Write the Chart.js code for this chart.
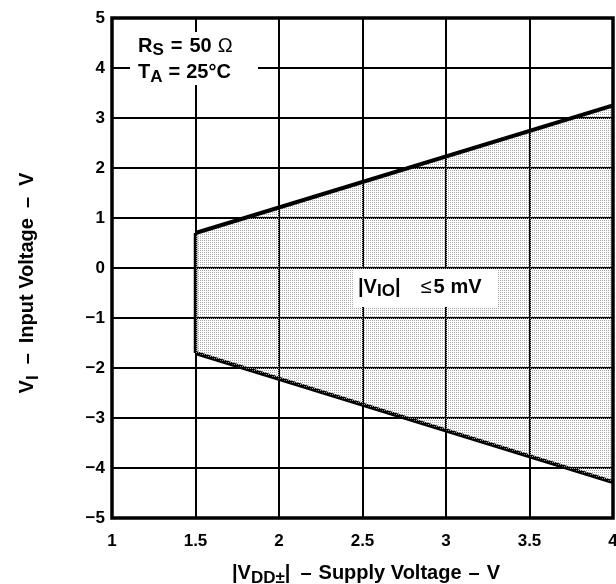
<!DOCTYPE html>
<html>
<head>
<meta charset="utf-8">
<script src="https://cdn.jsdelivr.net/npm/chart.js@4/dist/chart.umd.min.js"></script>
<style>
  html, body { margin: 0; padding: 0; background: #ffffff; }
  #c { display: block; }
</style>
</head>
<body>
<canvas id="c" width="616" height="584"></canvas>
<script>
// ---- data ----
const boundaryX = [1.5, 4];          // supply voltage |VDD±| (V)
const upperLimit = [0.7, 3.25];       // upper VI limit (V)
const lowerLimit = [-1.7, -4.28];     // lower VI limit (V)
const xTickValues = [1, 1.5, 2, 2.5, 3, 3.5, 4];
const yTickValues = [5, 4, 3, 2, 1, 0, -1, -2, -3, -4, -5];
const xRange = [1, 4];
const yRange = [-5, 5];

const FAMILY = '"Liberation Sans", Arial, Helvetica, sans-serif';

// stipple pattern for the shaded region
const pc = document.createElement('canvas');
pc.width = 2; pc.height = 2;
const pctx = pc.getContext('2d');
pctx.fillStyle = '#a8a8a8';
pctx.fillRect(0, 0, 1, 1);
const ctxMain = document.getElementById('c').getContext('2d');
const stipple = ctxMain.createPattern(pc, 'repeat');

const upperPts = boundaryX.map((x, i) => ({ x, y: upperLimit[i] }));
const lowerPts = boundaryX.map((x, i) => ({ x, y: lowerLimit[i] }));
const edgePts = [{ x: boundaryX[0], y: lowerLimit[0] }, { x: boundaryX[0], y: upperLimit[0] }];

// parts: {t, s, w, dy} text pieces or {sp} fixed gaps in px
function drawRich(ctx, parts, x, y, align) {
  let total = 0;
  const widths = parts.map(p => {
    if (p.sp !== undefined) { total += p.sp; return p.sp; }
    ctx.font = `${p.w || 'bold'} ${p.s}px ${FAMILY}`;
    const m = ctx.measureText(p.t).width;
    total += m;
    return m;
  });
  let cx = align === 'center' ? x - total / 2 : x;
  ctx.textAlign = 'left';
  ctx.textBaseline = 'alphabetic';
  ctx.fillStyle = '#000';
  parts.forEach((p, i) => {
    if (p.sp === undefined) {
      ctx.font = `${p.w || 'bold'} ${p.s}px ${FAMILY}`;
      ctx.fillText(p.t, cx, y + (p.dy || 0));
    }
    cx += widths[i];
  });
}

const decor = {
  id: 'decor',
  afterDatasetsDraw(chart) {
    const ctx = chart.ctx;
    const a = chart.chartArea;
    ctx.save();
    // white label boxes
    ctx.fillStyle = '#ffffff';
    ctx.fillRect(130, 32, 128, 53);
    ctx.fillRect(353, 269, 144, 38);
    // condition labels
    drawRich(ctx, [
      { t: 'R', s: 20 }, { t: 'S', s: 17, dy: 3 }, { sp: 7 }, { t: '=', s: 20 }, { sp: 7 },
      { t: '50', s: 20 }, { sp: 6 }, { t: 'Ω', s: 20, w: 'normal' }
    ], 138, 52, 'left');
    drawRich(ctx, [
      { t: 'T', s: 20 }, { t: 'A', s: 17, dy: 4 }, { sp: 6 }, { t: '=', s: 20 }, { sp: 6 }, { t: '25°C', s: 20 }
    ], 138, 78, 'left');
    // region label
    drawRich(ctx, [
      { t: '|V', s: 20 }, { t: 'IO', s: 17, dy: 3 }, { t: '|', s: 20 }, { sp: 20 },
      { t: '≤', s: 20, w: 'normal' }, { sp: 2 }, { t: '5', s: 20 }, { sp: 6 }, { t: 'mV', s: 20 }
    ], 358, 293, 'left');
    // border
    ctx.strokeStyle = '#000';
    ctx.lineWidth = 3.5;
    ctx.strokeRect(a.left, a.top, a.right - a.left, a.bottom - a.top);
    // axis titles
    drawRich(ctx, [
      { t: '|V', s: 20 }, { t: 'DD±', s: 17, dy: 4 }, { t: '|', s: 20 }, { sp: 10 }, { t: '–', s: 20 }, { sp: 7 },
      { t: 'Supply Voltage', s: 20 }, { sp: 7 }, { t: '–', s: 20 }, { sp: 7 }, { t: 'V', s: 20 }
    ], 366, 579, 'center');
    ctx.save();
    ctx.translate(33, 283);
    ctx.rotate(-Math.PI / 2);
    drawRich(ctx, [
      { t: 'V', s: 20 }, { t: 'I', s: 17, dy: 5 }, { sp: 11 }, { t: '–', s: 20 }, { sp: 10 },
      { t: 'Input Voltage', s: 20 }, { sp: 10 }, { t: '–', s: 20 }, { sp: 11 }, { t: 'V', s: 20 }
    ], 0, 0, 'center');
    ctx.restore();
    ctx.restore();
  }
};

new Chart(ctxMain, {
  type: 'line',
  data: {
    datasets: [
      {
        data: upperPts,
        borderColor: '#000',
        borderWidth: 4,
        pointRadius: 0,
        backgroundColor: stipple,
        fill: '+1',
        tension: 0
      },
      {
        data: lowerPts,
        borderColor: '#000',
        borderWidth: 4,
        pointRadius: 0,
        fill: false,
        tension: 0
      },
      {
        data: edgePts,
        borderColor: '#000',
        borderWidth: 3.5,
        pointRadius: 0,
        fill: false,
        tension: 0
      }
    ]
  },
  options: {
    responsive: false,
    animation: false,
    devicePixelRatio: 1,
    layout: { autoPadding: false, padding: { top: 18, right: 3, left: 0, bottom: 0 } },
    plugins: { legend: { display: false }, tooltip: { enabled: false } },
    scales: {
      x: {
        type: 'linear',
        min: xRange[0], max: xRange[1],
        afterFit(s) { s.height = 66; s.paddingLeft = 0; s.paddingRight = 0; },
        afterBuildTicks(s) { s.ticks = xTickValues.map(v => ({ value: v })); },
        grid: { color: '#000', lineWidth: 2, drawTicks: false },
        border: { display: false },
        ticks: {
          padding: 13,
          color: '#000',
          font: { family: FAMILY, size: 17, weight: 'bold' },
          maxRotation: 0,
          callback: v => String(v)
        }
      },
      y: {
        type: 'linear',
        min: yRange[0], max: yRange[1],
        afterFit(s) { s.width = 112; s.paddingTop = 0; s.paddingBottom = 0; },
        afterBuildTicks(s) { s.ticks = yTickValues.map(v => ({ value: v })); },
        grid: { color: '#000', lineWidth: 2, drawTicks: false },
        border: { display: false },
        ticks: {
          padding: 7,
          color: '#000',
          font: { family: FAMILY, size: 17, weight: 'bold' },
          callback: v => String(v).replace('-', '−')
        }
      }
    }
  },
  plugins: [decor]
});
</script>
</body>
</html>
